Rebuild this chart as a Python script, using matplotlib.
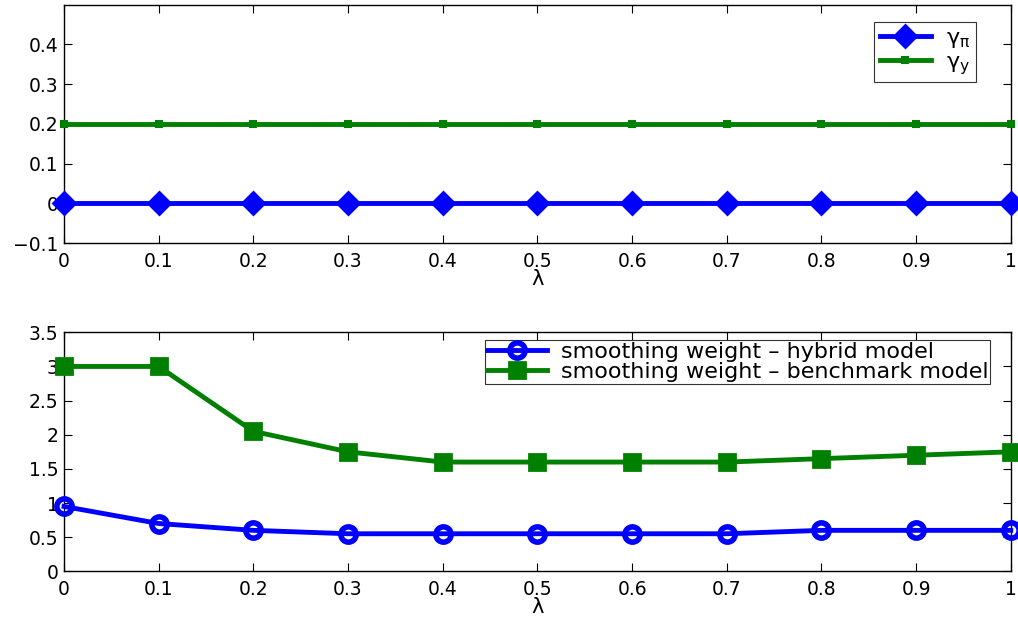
import matplotlib
matplotlib.use("Agg")
import matplotlib.pyplot as plt

plt.rcParams['font.family'] = ['DejaVu Sans']
plt.rcParams['mathtext.fontset'] = 'dejavusans'

lam = [0, 0.1, 0.2, 0.3, 0.4, 0.5, 0.6, 0.7, 0.8, 0.9, 1.0]
gamma_pi = [0, 0, 0, 0, 0, 0, 0, 0, 0, 0, 0]
gamma_y = [0.2, 0.2, 0.2, 0.2, 0.2, 0.2, 0.2, 0.2, 0.2, 0.2, 0.2]
hybrid = [0.95, 0.7, 0.6, 0.55, 0.55, 0.55, 0.55, 0.55, 0.6, 0.6, 0.6]
benchmark = [3.0, 3.0, 2.05, 1.75, 1.6, 1.6, 1.6, 1.6, 1.65, 1.7, 1.75]

xticks = [0, 0.1, 0.2, 0.3, 0.4, 0.5, 0.6, 0.7, 0.8, 0.9, 1]
xticklabels = ['0', '0.1', '0.2', '0.3', '0.4', '0.5', '0.6', '0.7', '0.8', '0.9', '1']
top_yticks = [-0.1, 0, 0.1, 0.2, 0.3, 0.4]
top_yticklabels = ['\u22120.1', '0', '0.1', '0.2', '0.3', '0.4']
bot_yticks = [0, 0.5, 1, 1.5, 2, 2.5, 3, 3.5]
bot_yticklabels = ['0', '0.5', '1', '1.5', '2', '2.5', '3', '3.5']

BLUE = (0, 0, 1)
GREEN = (0, 0.5, 0)
FS = 13.5

fig = plt.figure(figsize=(10.18, 6.22), dpi=100)
ax1 = fig.add_axes([0.0629, 0.609, 0.930, 0.3837])
ax2 = fig.add_axes([0.0629, 0.0815, 0.930, 0.3842])

def style(ax):
    ax.tick_params(direction='in', top=True, right=True, length=6, width=0.8,
                   labelsize=FS)
    ax.tick_params(axis='x', pad=6)
    ax.tick_params(axis='y', pad=4)
    for s in ax.spines.values():
        s.set_linewidth(1.0)
    ax.set_xlim(0, 1)
    ax.set_xticks(xticks)
    ax.set_xticklabels(xticklabels)
    ax.set_xlabel('\u03bb', fontsize=15, labelpad=-1)

ax1.plot(lam, gamma_pi, color=BLUE, lw=3.5, marker='D', ms=11, mfc=BLUE,
         mec=BLUE, mew=2, clip_on=False, label=r'$\mathrm{\gamma_{\pi}}$', zorder=3)
ax1.plot(lam, gamma_y, color=GREEN, lw=3.5, marker='s', ms=5, mfc=GREEN,
         mec=GREEN, mew=1.5, clip_on=False, label=r'$\mathrm{\gamma_{y}}$', zorder=3)
ax1.set_ylim(-0.1, 0.5)
ax1.set_yticks(top_yticks)
ax1.set_yticklabels(top_yticklabels)
style(ax1)
leg1 = ax1.legend(loc='upper right', bbox_to_anchor=(0.9635, 0.925), fontsize=16,
                  frameon=True, fancybox=False, edgecolor='black', handlelength=2.3,
                  borderpad=0.25, labelspacing=0.1, handletextpad=0.7, borderaxespad=0)
leg1.get_frame().set_linewidth(0.8)

ax2.plot(lam, hybrid, color=BLUE, lw=3.5, marker='o', ms=11, mfc='none',
         mec=BLUE, mew=4, clip_on=False, label='smoothing weight \u2013 hybrid model', zorder=3)
ax2.plot(lam, benchmark, color=GREEN, lw=3.5, marker='s', ms=11, mfc=GREEN,
         mec=GREEN, mew=2, clip_on=False, label='smoothing weight \u2013 benchmark model', zorder=3)
ax2.set_ylim(0, 3.5)
ax2.set_yticks(bot_yticks)
ax2.set_yticklabels(bot_yticklabels)
style(ax2)
leg2 = ax2.legend(loc='upper right', bbox_to_anchor=(0.9785, 0.968), fontsize=16,
                  frameon=True, fancybox=False, edgecolor='black', handlelength=2.7,
                  borderpad=0.1, labelspacing=0.0, handletextpad=0.6, borderaxespad=0)
leg2.get_frame().set_linewidth(0.8)

fig.savefig('out.png', dpi=100)
